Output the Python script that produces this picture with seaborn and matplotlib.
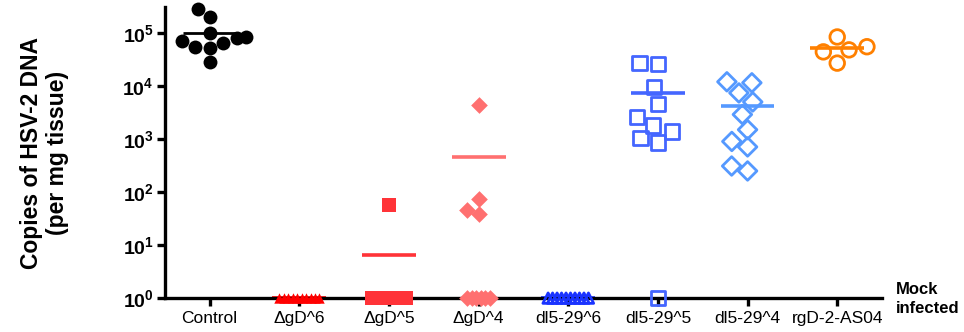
import numpy as np
import pandas as pd
import matplotlib
matplotlib.use('Agg')
import matplotlib.pyplot as plt
import seaborn as sns
from matplotlib.ticker import LogLocator, LogFormatterSciNotation, NullLocator

groups = ['Control', 'ΔgD^6', 'ΔgD^5', 'ΔgD^4', 'dl5-29^6', 'dl5-29^5', 'dl5-29^4', 'rgD-2-AS04']

control = [2.8e5, 2.0e5, 1.0e5, 8.1e4, 8.3e4, 7.0e4, 6.5e4, 5.5e4, 5.2e4, 2.8e4]
dgd_6 = [1, 1, 1, 1, 1, 1, 1, 1, 1, 1]
dgd_5 = [57, 1, 1, 1, 1, 1, 1, 1, 1, 1]
dgd_4 = [4400, 74, 46, 38, 1, 1, 1, 1, 1, 1]
dl_6 = [1, 1, 1, 1, 1, 1, 1, 1, 1, 1]
dl_5 = [2.6e4, 2.7e4, 9.6e3, 4.6e3, 2.6e3, 1.8e3, 1.4e3, 1.05e3, 870, 1]
dl_4 = [1.2e4, 1.15e4, 7.4e3, 5.0e3, 2.9e3, 1.5e3, 900, 710, 250, 310]
rgd = [8.4e4, 5.5e4, 4.8e4, 4.4e4, 2.7e4]

all_values = [control, dgd_6, dgd_5, dgd_4, dl_6, dl_5, dl_4, rgd]

colors = ['#000000', '#ff0000', '#ff3338', '#ff7070', '#1a33ff', '#4466ff', '#5599ff', '#ff8000']
markers = ['o', '^', 's', 'D', '^', 's', 'D', 'o']
filled = [True, True, True, True, False, False, False, False]
sizes = [10, 7.5, 10.5, 8.5, 7.5, 10.5, 9.5, 10.5]

df = pd.DataFrame({
    'group': np.repeat(groups, [len(v) for v in all_values]),
    'copies': np.concatenate(all_values),
})

sns.set_style('ticks')
plt.rcParams['font.family'] = ['Liberation Sans', 'DejaVu Sans']

fig = plt.figure(figsize=(9.64, 3.32), dpi=100)
ax = fig.add_axes([0.171, 0.102, 0.744, 0.877])
ax.set_yscale('log')

for g, c, m, f, s in zip(groups, colors, markers, filled, sizes):
    sub = df[df['group'] == g]
    style = dict(color=c, linewidth=0) if f else dict(facecolor='none', edgecolor=c, linewidth=2)
    above = sub[sub['copies'] > 1]
    floor = sub[sub['copies'] <= 1]
    if len(above):
        sns.swarmplot(data=above, x='group', y='copies', order=groups, marker=m, size=s,
                      ax=ax, clip_on=False, zorder=3, warn_thresh=1, **style)
    if len(floor):
        # values at the detection floor sit in one evenly spaced row
        k = len(floor)
        n_slots = 16 + k % 2
        start = (n_slots - k) // 2
        slots = [str(i) for i in range(n_slots)]
        floor = floor.assign(slot=[str(i) for i in range(start, start + k)])
        before = len(ax.collections)
        sns.stripplot(data=floor, x='group', y='copies', order=groups, hue='slot',
                      hue_order=slots, palette=[c] * n_slots, dodge=True, jitter=False,
                      legend=False, marker=m, size=s, linewidth=0, ax=ax,
                      clip_on=False, zorder=3)
        for coll in ax.collections[before:]:
            if f:
                coll.set_facecolor(c)
                coll.set_linewidth(0)
            else:
                coll.set_facecolor('none')
                coll.set_edgecolor(c)
                coll.set_linewidth(2)

for coll in list(ax.collections):
    if len(coll.get_offsets()) == 0:
        coll.remove()

# mean lines
means = df.groupby('group', sort=False)['copies'].mean()
for i, (g, c) in enumerate(zip(groups, colors)):
    ax.hlines(means[g], i - 0.3, i + 0.3, color=c, lw=2.6 if i else 2, zorder=2)

ax.set_xlim(-0.5, 7.5)
ax.set_ylim(1, 10 ** 5.49)
ax.yaxis.set_major_locator(LogLocator(base=10, numticks=10))
ax.yaxis.set_major_formatter(LogFormatterSciNotation())
ax.yaxis.set_minor_locator(NullLocator())

sns.despine(ax=ax)
for sp in ['left', 'bottom']:
    ax.spines[sp].set_linewidth(2.4)
    ax.spines[sp].set_color('black')
ax.tick_params(axis='both', width=2.4, length=6, color='black', labelcolor='black')
ax.tick_params(axis='x', labelsize=12.5, pad=3)
ax.tick_params(axis='y', labelsize=14, pad=2)
for lab in ax.get_yticklabels():
    lab.set_fontweight('bold')

ax.set_xlabel('')
ax.set_ylabel('Copies of HSV-2 DNA\n(per mg tissue)', fontsize=16.5, fontweight='bold',
              linespacing=1.2, color='black')
ax.yaxis.set_label_coords(-0.133, 0.5)

ax.text(1.0195, 0.055, 'Mock\ninfected', transform=ax.transAxes, ha='left', va='top',
        fontsize=12, fontweight='bold', linespacing=1.35, color='black')

fig.savefig('out.png', dpi=100)
